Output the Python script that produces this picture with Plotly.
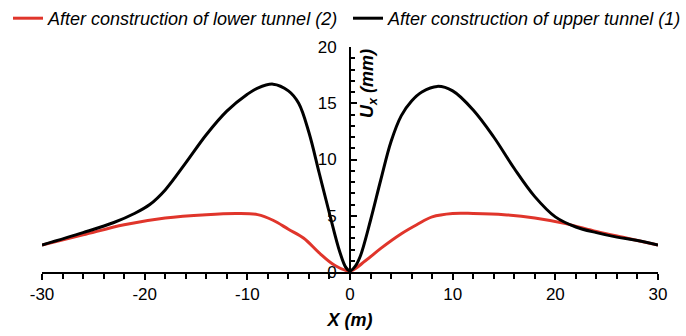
import plotly.graph_objects as go

# Data
x_upper = [-30, -26, -23, -21, -19.5, -18, -16, -14, -12, -10, -9, -7.5, -6, -5, -4, -3, -2, -1, -0.4, 0,
           0.5, 1, 2, 3, 4, 5, 6, 7, 8.5, 10, 12, 14, 16, 18, 20, 22, 24, 26, 28, 30]
y_upper = [2.4, 3.5, 4.4, 5.2, 6.0, 7.3, 9.7, 12.2, 14.3, 15.8, 16.35, 16.7, 16.1, 15.0, 12.4, 8.8, 5.2, 1.8, 0.4, 0.1,
           0.5, 1.4, 4.6, 8.2, 11.6, 13.9, 15.2, 16.0, 16.5, 16.1, 14.4, 12.0, 9.2, 6.7, 4.9, 4.0, 3.5, 3.1, 2.8, 2.4]

x_lower = [-30, -26, -22, -18, -14, -11, -9, -7.5, -6, -4.5, -3, -1.5, 0,
           1.5, 3, 5, 6.5, 8, 10, 12, 15, 18, 21, 24, 27, 30]
y_lower = [2.4, 3.3, 4.2, 4.8, 5.1, 5.2, 5.1, 4.6, 3.8, 3.0, 1.7, 0.6, 0.1,
           1.0, 2.1, 3.4, 4.2, 4.9, 5.2, 5.2, 5.1, 4.8, 4.3, 3.6, 3.0, 2.4]

x_ticks = [-30, -20, -10, 0, 10, 20, 30]
x_ticktext = ["-30", "-20", "-10", "0", "10", "20", "30"]
y_ticks = [0, 5, 10, 15, 20]
y_ticktext = ["0", "5", "10", "15", "20"]

name_lower = "After construction of lower tunnel (2)"
name_upper = "After construction of upper tunnel (1)"

FONT = "Liberation Sans, Arial, sans-serif"

fig = go.Figure()
fig.add_trace(go.Scatter(x=x_lower, y=y_lower, mode="lines", name=name_lower, legend="legend",
                         line=dict(color="#e0352b", width=3, shape="spline", smoothing=1.0)))
fig.add_trace(go.Scatter(x=x_upper, y=y_upper, mode="lines", name=name_upper, legend="legend2",
                         line=dict(color="#000000", width=3, shape="spline", smoothing=1.0)))

leg_common = dict(orientation="h", y=1, xref="container", yref="container",
                  xanchor="left", yanchor="top",
                  font=dict(family=FONT, size=18, color="black", style="italic"),
                  itemwidth=30, bgcolor="rgba(0,0,0,0)")

fig.update_layout(
    width=686, height=336,
    margin=dict(l=42, r=28, t=47, b=64, autoexpand=False),
    paper_bgcolor="white", plot_bgcolor="white",
    font=dict(family=FONT, size=17, color="black"),
    showlegend=True,
    legend=dict(x=8 / 686, **leg_common),
    legend2=dict(x=348 / 686, **leg_common),
    xaxis=dict(range=[-30, 30], tickvals=x_ticks, ticktext=x_ticktext, ticks="outside",
               ticklen=6, tickwidth=1.5, tickcolor="black", showline=True, linecolor="black",
               linewidth=2, showgrid=False, zeroline=False,
               minor=dict(dtick=2, ticks="outside", ticklen=5, tickwidth=1.5, tickcolor="black"),
               tickfont=dict(family=FONT, size=17),
               title=dict(text="<b><i>X (m)</i></b>", font=dict(family=FONT, size=18), standoff=10)),
    yaxis=dict(range=[0, 20], tickvals=y_ticks, ticktext=y_ticktext, anchor="free", position=0.5,
               side="left", ticks="inside", ticklen=6, tickwidth=1.5, tickcolor="black",
               showline=True, linecolor="black", linewidth=2, showgrid=False, zeroline=False,
               minor=dict(dtick=1, ticks="inside", ticklen=4, tickwidth=1.5, tickcolor="black"),
               tickfont=dict(family=FONT, size=17), ticklabelstandoff=9),
)

fig.add_annotation(text="<b><i>U<sub>x</sub> (mm)</i></b>", textangle=-90,
                   xref="paper", yref="paper", x=0.5, y=1.0, xshift=5,
                   xanchor="left", yanchor="top", showarrow=False,
                   font=dict(family=FONT, size=18, color="black"))

fig.write_html("out.html")
